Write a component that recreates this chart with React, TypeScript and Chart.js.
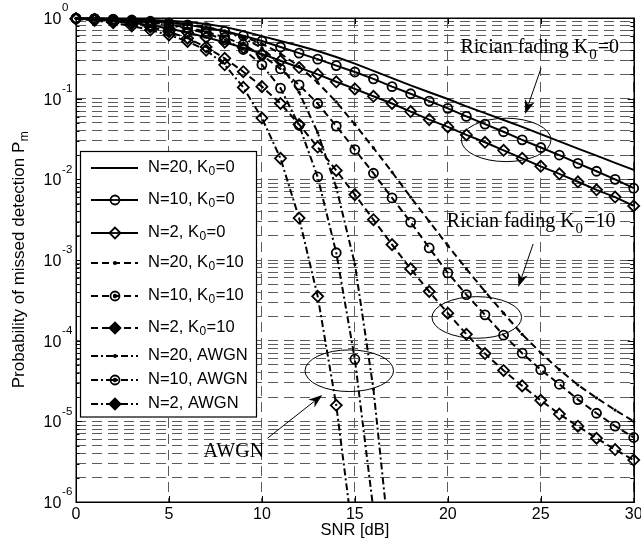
import React, { useEffect, useRef } from "react";
import { Chart, registerables } from "chart.js";

Chart.register(...registerables);

// ---------------- data ----------------
const snrDb = [0, 1, 2, 3, 4, 5, 6, 7, 8, 9, 10, 11, 12, 13, 14, 15, 16, 17, 18, 19, 20, 21, 22, 23, 24, 25, 26, 27, 28, 29, 30];

// Rayleigh-like (K0 = 0)
const pmN20K0 = [0.993, 0.989, 0.979, 0.966, 0.946, 0.923, 0.891, 0.841, 0.776, 0.684, 0.596, 0.519, 0.452, 0.389, 0.329, 0.272, 0.221, 0.18, 0.146, 0.12, 0.0989, 0.0804, 0.0661, 0.0543, 0.0447, 0.0363, 0.0295, 0.024, 0.0197, 0.016, 0.0131];
const pmN10K0 = [0.991, 0.982, 0.966, 0.944, 0.912, 0.871, 0.822, 0.759, 0.684, 0.603, 0.519, 0.437, 0.367, 0.309, 0.257, 0.214, 0.176, 0.141, 0.115, 0.0933, 0.0759, 0.0603, 0.0484, 0.0389, 0.0309, 0.0248, 0.02, 0.0158, 0.0126, 0.01, 0.00776];
const pmN2K0 = [0.977, 0.955, 0.923, 0.871, 0.813, 0.741, 0.661, 0.575, 0.501, 0.427, 0.359, 0.295, 0.243, 0.2, 0.162, 0.132, 0.107, 0.0871, 0.0692, 0.055, 0.0447, 0.0355, 0.0288, 0.0229, 0.0182, 0.0145, 0.0117, 0.00933, 0.00741, 0.00603, 0.00468];

// Rician K0 = 10
const pmN20K10 = [0.993, 0.986, 0.973, 0.955, 0.927, 0.891, 0.841, 0.776, 0.692, 0.589, 0.479, 0.363, 0.251, 0.158, 0.0912, 0.0479, 0.0245, 0.0123, 0.00603, 0.00302, 0.00151, 7.76e-4, 4.07e-4, 2.19e-4, 1.2e-4, 7.08e-5, 4.37e-5, 2.82e-5, 1.95e-5, 1.38e-5, 1.0e-5];
const pmN10K10 = [0.989, 0.977, 0.955, 0.923, 0.881, 0.832, 0.759, 0.676, 0.575, 0.468, 0.347, 0.234, 0.148, 0.0871, 0.0457, 0.0234, 0.0119, 0.00589, 0.00295, 0.00141, 6.92e-4, 3.72e-4, 2.09e-4, 1.17e-4, 7.0e-5, 4.37e-5, 2.88e-5, 1.86e-5, 1.26e-5, 8.71e-6, 6.31e-6];
const pmN2K10 = [0.977, 0.955, 0.912, 0.851, 0.776, 0.676, 0.562, 0.437, 0.316, 0.216, 0.141, 0.0871, 0.0479, 0.0251, 0.0129, 0.00646, 0.00316, 0.00155, 7.76e-4, 4.07e-4, 2.19e-4, 1.2e-4, 6.92e-5, 4.27e-5, 2.75e-5, 1.82e-5, 1.23e-5, 8.71e-6, 6.17e-6, 4.47e-6, 3.31e-6];

// AWGN (curves leave the axis at the bottom)
const pmN20Awgn = [0.993, 0.986, 0.973, 0.955, 0.923, 0.881, 0.832, 0.759, 0.676, 0.562, 0.427, 0.263, 0.12, 0.038, 0.00794, 8.91e-4, 2.51e-5, 1.58e-7];
const pmN10Awgn = [0.989, 0.977, 0.955, 0.912, 0.871, 0.813, 0.741, 0.646, 0.537, 0.407, 0.263, 0.135, 0.0468, 0.0107, 0.00123, 5.89e-5, 7.94e-7];
const pmN2Awgn = [0.977, 0.933, 0.871, 0.794, 0.708, 0.617, 0.513, 0.398, 0.263, 0.138, 0.0575, 0.0182, 0.00331, 3.55e-4, 1.58e-5, 2.5e-7];

const seriesLabels = [
  "N=20, K_0=0",
  "N=10, K_0=0",
  "N=2, K_0=0",
  "N=20, K_0=10",
  "N=10, K_0=10",
  "N=2, K_0=10",
  "N=20, AWGN",
  "N=10, AWGN",
  "N=2, AWGN",
];
const seriesData = [pmN20K0, pmN10K0, pmN2K0, pmN20K10, pmN10K10, pmN2K10, pmN20Awgn, pmN10Awgn, pmN2Awgn];

const xTickValues = [0, 5, 10, 15, 20, 25, 30];
const xTickLabels = ["0", "5", "10", "15", "20", "25", "30"];
const yDecadeExponents = [-6, -5, -4, -3, -2, -1, 0];
const yMinorSignificands = [2, 3, 4, 5, 6, 7, 8, 9];

const xTitle = "SNR [dB]";
const yTitleMain = "Probability of missed detection P";
const yTitleSub = "m";

// annotations in data coordinates (SNR dB, Pm)
const annoTexts = [
  { snr: 20.68, pm: 0.425, main: "Rician fading K", sub: "0", rest: "=0" },
  { snr: 19.95, pm: 0.00299, main: "Rician fading K", sub: "0", rest: "=10" },
  { snr: 6.86, pm: 4.22e-6, main: "AWGN", sub: "", rest: "" },
];
const annoArrows = [
  { x1: 25.02, p1: 0.24, x2: 24.16, p2: 0.0646 },
  { x1: 24.59, p1: 0.00158, x2: 23.79, p2: 4.62e-4 },
  { x1: 10.3, p1: 6.17e-6, x2: 13.25, p2: 2.12e-5 },
];
// center SNR, center Pm, half-width (dB), half-height (decades)
const annoEllipses = [
  { snr: 23.14, pm: 0.0308, hw: 2.41, hh: 0.269 },
  { snr: 21.56, pm: 1.94e-4, hw: 2.41, hh: 0.258 },
  { snr: 14.7, pm: 4.24e-5, hw: 2.38, hh: 0.258 },
];

// ---------------- styles ----------------
const SANS = "'Liberation Sans', Arial, Helvetica, sans-serif";
const SERIF = "'Liberation Serif', 'Times New Roman', Times, serif";
const GRID_COLOR = "#5c5c5c";
const GRID_DASH = [10, 6];
const DASH_SOLID: number[] = [];
const DASH_DASHED = [7, 4];
const DASH_DASHDOT = [7, 3, 2, 3];

type Marker = "none" | "dot" | "circle" | "diamond";
const seriesStyles: { dash: number[]; marker: Marker; legendFilled: boolean }[] = [
  { dash: DASH_SOLID, marker: "none", legendFilled: false },
  { dash: DASH_SOLID, marker: "circle", legendFilled: false },
  { dash: DASH_SOLID, marker: "diamond", legendFilled: false },
  { dash: DASH_DASHED, marker: "dot", legendFilled: true },
  { dash: DASH_DASHED, marker: "circle", legendFilled: true },
  { dash: DASH_DASHED, marker: "diamond", legendFilled: true },
  { dash: DASH_DASHDOT, marker: "dot", legendFilled: true },
  { dash: DASH_DASHDOT, marker: "circle", legendFilled: true },
  { dash: DASH_DASHDOT, marker: "diamond", legendFilled: true },
];
const legendRowY = [168, 200, 233, 263, 296, 328, 356, 380, 404];

function buildYTicks(): number[] {
  const out: number[] = [];
  yDecadeExponents.forEach((e) => {
    const base = Math.pow(10, e);
    out.push(base);
    if (e < 0) yMinorSignificands.forEach((m) => out.push(Number((m * base).toPrecision(6))));
  });
  return out.sort((a, b) => a - b);
}

function splitLabel(s: string) {
  const i = s.indexOf("_");
  if (i < 0) return { main: s, sub: "", rest: "" };
  return { main: s.slice(0, i), sub: s.charAt(i + 1), rest: s.slice(i + 2) };
}

function drawSubText(
  ctx: CanvasRenderingContext2D,
  x: number,
  y: number,
  main: string,
  sub: string,
  rest: string,
  font: string,
  subFont: string,
  subDy: number,
  pad: number
) {
  ctx.font = font;
  ctx.fillText(main, x, y);
  let w = ctx.measureText(main).width;
  if (sub) {
    ctx.font = subFont;
    ctx.fillText(sub, x + w + pad, y + subDy);
    w += ctx.measureText(sub).width + 2 * pad;
    ctx.font = font;
    ctx.fillText(rest, x + w, y);
  }
}

function drawArrow(ctx: CanvasRenderingContext2D, x1: number, y1: number, x2: number, y2: number, len: number, wid: number) {
  const a = Math.atan2(y2 - y1, x2 - x1);
  const ux = Math.cos(a), uy = Math.sin(a);
  const nx = -uy, ny = ux;
  const bx = x2 - ux * len, by = y2 - uy * len;
  const notch = 0.7;
  ctx.beginPath();
  ctx.moveTo(x1, y1);
  ctx.lineTo(x2 - ux * len * notch, y2 - uy * len * notch);
  ctx.stroke();
  ctx.beginPath();
  ctx.moveTo(x2, y2);
  ctx.lineTo(bx + (nx * wid) / 2, by + (ny * wid) / 2);
  ctx.lineTo(x2 - ux * len * notch, y2 - uy * len * notch);
  ctx.lineTo(bx - (nx * wid) / 2, by - (ny * wid) / 2);
  ctx.closePath();
  ctx.fill();
}

function drawMarker(ctx: CanvasRenderingContext2D, marker: Marker, x: number, y: number, filled: boolean) {
  ctx.save();
  ctx.setLineDash([]);
  ctx.lineWidth = 1.8;
  ctx.strokeStyle = "#000";
  ctx.fillStyle = "#000";
  if (marker === "dot") {
    ctx.beginPath();
    ctx.arc(x, y, 2, 0, Math.PI * 2);
    ctx.fill();
  } else if (marker === "circle") {
    ctx.beginPath();
    ctx.arc(x, y, 4.5, 0, Math.PI * 2);
    if (!filled) {
      ctx.fillStyle = "#fff";
      ctx.fill();
      ctx.stroke();
      ctx.beginPath();
      ctx.moveTo(x - 4.5, y);
      ctx.lineTo(x + 4.5, y);
      ctx.stroke();
    } else {
      ctx.stroke();
      ctx.beginPath();
      ctx.arc(x, y, 2.2, 0, Math.PI * 2);
      ctx.fill();
    }
  } else if (marker === "diamond") {
    const r = 5.5;
    ctx.beginPath();
    ctx.moveTo(x - r, y);
    ctx.lineTo(x, y - r);
    ctx.lineTo(x + r, y);
    ctx.lineTo(x, y + r);
    ctx.closePath();
    if (filled) {
      ctx.fill();
      ctx.stroke();
    } else {
      ctx.fillStyle = "#fff";
      ctx.fill();
      ctx.stroke();
      ctx.beginPath();
      ctx.moveTo(x - r, y);
      ctx.lineTo(x + r, y);
      ctx.stroke();
    }
  }
  ctx.restore();
}

const decorPlugin = {
  id: "decor",
  beforeDraw(chart: any) {
    const { ctx, width, height } = chart;
    ctx.save();
    ctx.fillStyle = "#fff";
    ctx.fillRect(0, 0, width, height);
    ctx.restore();
  },
  afterDatasetsDraw(chart: any) {
    const ctx: CanvasRenderingContext2D = chart.ctx;
    const xs = chart.scales.x;
    const ys = chart.scales.y;
    ctx.save();
    ctx.strokeStyle = "#000";
    ctx.fillStyle = "#000";
    ctx.lineWidth = 1;
    ctx.setLineDash([]);
    annoEllipses.forEach((e) => {
      const cx = xs.getPixelForValue(e.snr);
      const cy = ys.getPixelForValue(e.pm);
      const rx = xs.getPixelForValue(e.snr + e.hw) - cx;
      const ry = cy - ys.getPixelForValue(e.pm * Math.pow(10, e.hh));
      ctx.beginPath();
      ctx.ellipse(cx, cy, rx, ry, 0, 0, Math.PI * 2);
      ctx.stroke();
    });
    annoArrows.forEach((a) => {
      drawArrow(ctx, xs.getPixelForValue(a.x1), ys.getPixelForValue(a.p1), xs.getPixelForValue(a.x2), ys.getPixelForValue(a.p2), 14, 10);
    });
    ctx.textBaseline = "middle";
    ctx.textAlign = "left";
    annoTexts.forEach((t) => {
      drawSubText(ctx, xs.getPixelForValue(t.snr), ys.getPixelForValue(t.pm), t.main, t.sub, t.rest, `20px ${SERIF}`, `15px ${SERIF}`, 7, 1);
    });
    ctx.restore();
  },
  afterDraw(chart: any) {
    const ctx: CanvasRenderingContext2D = chart.ctx;
    const xs = chart.scales.x;
    const ys = chart.scales.y;
    const { left, right, top, bottom } = chart.chartArea;
    ctx.save();
    ctx.setLineDash([]);
    ctx.strokeStyle = "#000";
    ctx.fillStyle = "#000";
    ctx.lineWidth = 1;
    ctx.beginPath();
    ys.ticks.forEach((t: any) => {
      const py = Math.round(ys.getPixelForValue(t.value)) + 0.5;
      const major = Math.abs(Math.log10(t.value) - Math.round(Math.log10(t.value))) < 1e-9;
      const len = major ? 6 : 3.5;
      ctx.moveTo(left, py);
      ctx.lineTo(left + len, py);
      ctx.moveTo(right, py);
      ctx.lineTo(right - len, py);
    });
    xTickValues.forEach((v) => {
      const px = Math.round(xs.getPixelForValue(v)) + 0.5;
      ctx.moveTo(px, bottom);
      ctx.lineTo(px, bottom - 6);
      ctx.moveTo(px, top);
      ctx.lineTo(px, top + 6);
    });
    ctx.stroke();
    ctx.lineWidth = 1.5;
    ctx.strokeRect(Math.round(left) + 0.25, Math.round(top) + 0.25, Math.round(right - left), Math.round(bottom - top));

    ctx.font = `16px ${SANS}`;
    ctx.textAlign = "center";
    ctx.textBaseline = "middle";
    xTickValues.forEach((v, i) => {
      ctx.fillText(xTickLabels[i], xs.getPixelForValue(v), bottom + 13);
    });
    ctx.textAlign = "left";
    yDecadeExponents.forEach((e) => {
      const py = ys.getPixelForValue(Math.pow(10, e));
      ctx.font = `16px ${SANS}`;
      ctx.fillText("10", 43.5, py + 1.5);
      const w = ctx.measureText("10").width;
      ctx.font = `11.5px ${SANS}`;
      ctx.fillText(String(e), 43.5 + w + 0.8, py - 10);
    });
    ctx.font = `16.5px ${SANS}`;
    ctx.textAlign = "center";
    ctx.fillText(xTitle, (left + right) / 2, 530);
    ctx.save();
    ctx.translate(24, (top + bottom) / 2);
    ctx.rotate(-Math.PI / 2);
    ctx.textBaseline = "alphabetic";
    ctx.textAlign = "left";
    ctx.font = `17px ${SANS}`;
    const wm = ctx.measureText(yTitleMain).width;
    ctx.font = `12px ${SANS}`;
    const ws = ctx.measureText(yTitleSub).width;
    const x0 = -(wm + ws) / 2;
    ctx.font = `17px ${SANS}`;
    ctx.fillText(yTitleMain, x0, 0);
    ctx.font = `12px ${SANS}`;
    ctx.fillText(yTitleSub, x0 + wm + 0.5, 3.5);
    ctx.restore();

    const lx = 80.5, ly = 151.5, lw = 176, lh = 265.5;
    ctx.fillStyle = "#fff";
    ctx.fillRect(lx, ly, lw, lh);
    ctx.lineWidth = 1.2;
    ctx.strokeStyle = "#000";
    ctx.strokeRect(lx, ly, lw, lh);
    seriesLabels.forEach((lab, i) => {
      const y = legendRowY[i];
      const st = seriesStyles[i];
      ctx.save();
      ctx.lineWidth = 2;
      ctx.strokeStyle = "#000";
      ctx.setLineDash(st.dash);
      ctx.beginPath();
      ctx.moveTo(91, y);
      ctx.lineTo(138, y);
      ctx.stroke();
      ctx.restore();
      if (st.marker !== "none") drawMarker(ctx, st.marker, 115, y, st.legendFilled);
      const p = splitLabel(lab);
      ctx.fillStyle = "#000";
      ctx.textAlign = "left";
      ctx.textBaseline = "middle";
      drawSubText(ctx, 148, y - 1, p.main, p.sub, p.rest, `16.5px ${SANS}`, `12px ${SANS}`, 5, 0.5);
    });
    ctx.restore();
  },
};

export default function App() {
  const ref = useRef<HTMLCanvasElement | null>(null);
  useEffect(() => {
    const canvas = ref.current;
    if (!canvas) return;
    const yTicks = buildYTicks();
    const datasets = seriesData.map((vals, i) => {
      const st = seriesStyles[i];
      const isDot = st.marker === "dot";
      const isNone = st.marker === "none";
      return {
        label: seriesLabels[i],
        data: vals.map((v, k) => ({ x: snrDb[k], y: v })),
        borderColor: "#000",
        borderWidth: 2,
        borderDash: st.dash,
        fill: false,
        tension: 0,
        pointStyle: st.marker === "diamond" ? "rectRot" : "circle",
        pointRadius: isNone ? 0 : isDot ? 1.6 : st.marker === "diamond" ? 5.5 : 4.5,
        pointBorderWidth: isDot ? 0 : 1.8,
        pointBorderColor: "#000",
        pointBackgroundColor: isDot ? "#000" : "rgba(0,0,0,0)",
        pointHoverRadius: 0,
        clip: { left: 12, top: 12, right: 12, bottom: 0 },
      };
    });
    const chart = new Chart(canvas, {
      type: "line",
      data: { datasets } as any,
      options: {
        responsive: false,
        maintainAspectRatio: false,
        animation: false,
        devicePixelRatio: 1,
        events: [],
        layout: { padding: { left: 76, right: 5, top: 18, bottom: 44 } },
        plugins: { legend: { display: false }, tooltip: { enabled: false }, title: { display: false } },
        scales: {
          x: {
            type: "linear",
            min: 0,
            max: 30,
            afterBuildTicks: (s: any) => {
              s.ticks = xTickValues.map((v) => ({ value: v }));
            },
            ticks: { display: false },
            grid: { drawTicks: false, color: GRID_COLOR, lineWidth: 1 },
            border: { display: false, dash: GRID_DASH },
          },
          y: {
            type: "logarithmic",
            min: 1e-6,
            max: 1,
            afterBuildTicks: (s: any) => {
              s.ticks = yTicks.map((v) => ({ value: v }));
            },
            ticks: { display: false },
            grid: { drawTicks: false, color: GRID_COLOR, lineWidth: 1 },
            border: { display: false, dash: GRID_DASH },
          },
        },
      } as any,
      plugins: [decorPlugin],
    });
    return () => chart.destroy();
  }, []);
  return (
    <div style={{ position: "fixed", left: 0, top: 0, width: 641, height: 546, background: "#fff" }}>
      <canvas ref={ref} width={641} height={546} style={{ display: "block", width: 641, height: 546 }} />
    </div>
  );
}
